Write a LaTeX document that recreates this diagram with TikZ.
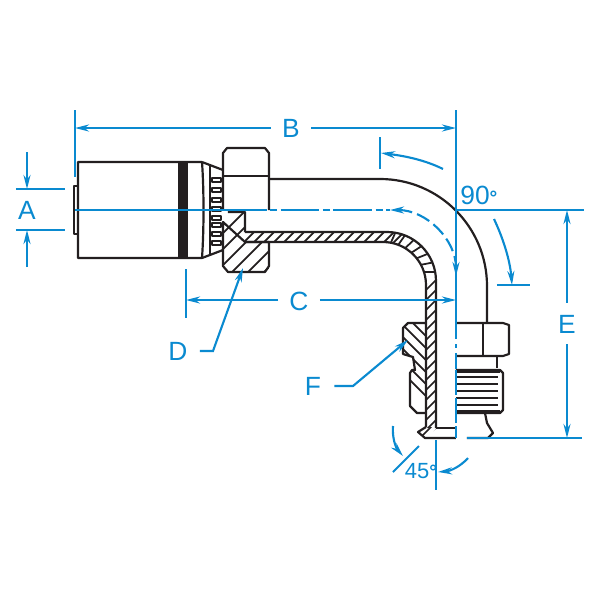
\documentclass[tikz,border=0pt]{standalone}
\usepackage{fontspec}
\setmainfont{Liberation Sans}
\usepackage{xcolor}
\usetikzlibrary{arrows, arrows.meta}
\usetikzlibrary{positioning}
\definecolor{dimblue}{HTML}{0A8AD0}
\definecolor{inkblack}{HTML}{231F20}
\tikzset{
	part/.style={draw=inkblack, line width=1.25pt, line join=round},
	hatchline/.style={inkblack, line width=1pt},
	dimline/.style={dimblue, line width=1.2pt},
	dimarrow/.style={dimline, ->},
	dimlabel/.style={text=dimblue, font=\fontsize{15}{15}\selectfont, inner sep=0pt},
	smalllabel/.style={text=dimblue, font=\fontsize{12.5}{12.5}\selectfont, inner sep=0pt},
}
\newcommand{\smalldeg}{\fontsize{11}{11}\selectfont\bfseries\textdegree}
\begin{document}
\begin{tikzpicture}[x=0.02cm,y=-0.02cm,>={Stealth[length=8pt,width=4pt]}]
	\useasboundingbox (0,0) rectangle (600,600);

	% draw ferrule
	\draw[part] (78,186) -- (74,186) -- (74,234) -- (78,234);
	\draw[part] (202,162) -- (78,162) -- (78,258) -- (202,258) -- (223,250);
	\draw[part] (202,162) -- (223,170);
	\draw[part] (202,162) .. controls (204,190) and (204,230) .. (202,258);
	\draw[part] (210,166) -- (210,254);
	\fill[inkblack] (178,162) rectangle (188,258);

	% draw crimp teeth
	\foreach \toothy in {178,188,198,207,216,223,232,241}
		\draw[part] (212,\toothy) rectangle (221,\toothy+4);

	% draw hex nut
	\draw[part] (223,210) -- (223,153) -- (227,148) -- (265,148) -- (269,153) -- (269,210);
	\draw[part] (223,176) -- (269,176);

	% draw outer tube
	\draw[part] (269,179) -- (380,179) arc (-90:0:107) -- (487,323);

	% draw nut section
	\begin{scope}
		\clip (228,212) -- (245,212) -- (245,242) -- (269,242) -- (269,272) -- (228,272) -- (223,266) -- (223,222) -- cycle;
		\foreach \hatchx in {176,192,...,320}
			\draw[hatchline] (\hatchx,280) -- (\hatchx+80,200);
	\end{scope}
	\draw[part] (228,212) -- (245,212) -- (245,232) (245,242) -- (269,242) -- (269,266) -- (265,272) -- (228,272) -- (223,266) -- (223,222) -- cycle;

	% draw tube wall section
	\begin{scope}
		\clip (245,232) -- (387,232) arc (-90:0:49) -- (436,428) -- (426,428) -- (426,285) arc (0:-90:43) -- (245,242) -- cycle;
		\foreach \hatchx in {240,250,...,390}
			\draw[hatchline] (\hatchx,246) -- (\hatchx+18,228);
		\foreach \hatchang in {-74,-63,...,-8}
			\draw[hatchline] (385,283) ++(\hatchang-8:40) -- ++(\hatchang+8:16);
		\foreach \hatchy in {288,298,...,438}
			\draw[hatchline] (422,\hatchy+6) -- (440,\hatchy-12);
	\end{scope}
	\draw[part] (245,232) -- (387,232) arc (-90:0:49) -- (436,428) (426,427) -- (426,285) arc (0:-90:43) -- (245,242);

	% draw lower section
	\begin{scope}
		\clip (403,328) -- (408,323) -- (426,323) -- (426,413) -- (417,413) -- (410,406) -- (410,370) -- (415,370) -- (413,356) -- (403,356) -- cycle;
		\foreach \hatchx in {340,352,...,440}
			\draw[hatchline] (\hatchx,310) -- (\hatchx+110,420);
	\end{scope}
	\draw[part] (426,323) -- (408,323) -- (403,328) -- (403,354) -- (413,357) -- (415,370) -- (412,370) -- (410,373) -- (410,406) -- (417,413) -- (426,413);

	% draw flare
	\begin{scope}
		\clip (426,427) -- (418,432) -- (425,438) -- (436,429) -- (436,427) -- cycle;
		\foreach \hatchx in {418,426}
			\draw[hatchline] (\hatchx,440) -- (\hatchx+14,426);
	\end{scope}
	\draw[part] (426,427) -- (418,432) -- (425,438) -- (456,438);
	\draw[part] (436,428) -- (456,428);

	% draw male end
	\draw[part] (456,323) -- (503,323) -- (509,325) -- (509,354) -- (503,356) -- (456,356);
	\draw[part] (483,323) -- (483,356);
	\draw[part] (497,356) -- (497,368);
	\draw[part] (456,370) -- (500,370) -- (503,373) -- (503,410) -- (500,413) -- (456,413);
	\foreach \thready in {377,384,391,398,405}
		\draw[inkblack, line width=1pt] (456,\thready) -- (498,\thready);
	\draw[inkblack, line width=1.8pt] (456,371) -- (500,371) (456,412) -- (500,412);
	\draw[part] (485,413) -- (487,423) -- (493,433) -- (488,438) -- (467,438);

	% draw centre lines
	\coordinate (centerL) at (75,210);
	\coordinate (centerM) at (228,210);
	\coordinate (bendstart) at (390,210);
	\coordinate (bendend) at (456,276);
	\coordinate (corner) at (456,210);
	\draw[dimline] (centerL) -- (centerM);
	\draw[dimline, dash pattern=on 22pt off 2pt on 4pt off 2pt] (centerM) -- (bendstart);
	\draw[dimline, <->, dash pattern=on 8pt off 3pt] (bendstart) arc (-90:0:66);
	\draw[dimline] (456,110) -- (456,323);
	\draw[dimline, dash pattern=on 9pt off 3pt on 2pt off 3pt] (456,323) -- (456,370);
	\draw[dimline, dash pattern=on 14pt off 2pt] (456,370) -- (456,438);

	% draw dimension B
	\node[dimlabel] (labelB) at (291,128) {B};
	\coordinate (tickB) at (75,128);
	\coordinate (endB) at (456,128);
	\draw[dimline] (75,110) -- (75,177);
	\draw[dimarrow] (labelB.west) ++(-11,0) -- (tickB);
	\draw[dimarrow] (labelB.east) ++(11,0) -- (endB);

	% draw dimension A
	\node[dimlabel] (labelA) at (27,210) {A};
	\coordinate (upperA) at (27,189);
	\coordinate (lowerA) at (27,230);
	\draw[dimline] (16,189) -- (65,189) (16,230) -- (65,230);
	\draw[dimarrow] (27,152) -- (upperA);
	\draw[dimarrow] (27,267) -- (lowerA);

	% draw dimension C
	\node[dimlabel] (labelC) at (299,301) {C};
	\coordinate (tickC) at (186,300);
	\coordinate (endC) at (456,300);
	\draw[dimline] (186,269) -- (186,318);
	\draw[dimarrow] (labelC.west) ++(-11,-1) -- (tickC);
	\draw[dimarrow] (labelC.east) ++(11,-1) -- (endC);

	% draw dimension E
	\node[dimlabel] (labelE) at (567,324) {E};
	\coordinate (topE) at (567,210);
	\coordinate (botE) at (567,438);
	\draw[dimline] (corner) -- (584,210);
	\draw[dimline] (467,438) -- (582,438);
	\draw[dimarrow] (labelE.north) ++(0,-12) -- (topE);
	\draw[dimarrow] (labelE.south) ++(0,11) -- (botE);

	% draw leaders D and F
	\node[dimlabel] (labelD) at (178,351) {D};
	\node[dimlabel] (labelF) at (313,386) {F};
	\coordinate (tipD) at (243,268);
	\coordinate (tipF) at (408,340);
	\draw[dimarrow] (labelD.east) ++(12,0) -- (213,351) -- (tipD);
	\draw[dimarrow] (labelF.east) ++(13,0) -- (353,386) -- (tipF);

	% draw angle 90
	\node[dimlabel, anchor=west] (label90) at (460,195) {90\smalldeg};
	\coordinate (tipUp) at (381,153);
	\coordinate (tipDown) at (512,285);
	\draw[dimline] (380,137) -- (380,169);
	\draw[dimline] (497,285) -- (530,285);
	\draw[dimarrow] (443,169) .. controls (425,160) and (405,156) .. (tipUp);
	\draw[dimarrow] (494,219) .. controls (503,238) and (510,260) .. (tipDown);

	% draw angle 45
	\node[smalllabel] (label45) at (421,471) {45\smalldeg};
	\coordinate (tipLeft) at (403,456);
	\coordinate (tipRight) at (438,472);
	\draw[dimline] (393,472) -- (419,446);
	\draw[dimline] (436,440) -- (436,490);
	\draw[dimarrow] (393,426) .. controls (392,438) and (396,448) .. (tipLeft);
	\draw[dimarrow] (468,458) .. controls (460,467) and (450,471) .. (tipRight);
\end{tikzpicture}
\end{document}
